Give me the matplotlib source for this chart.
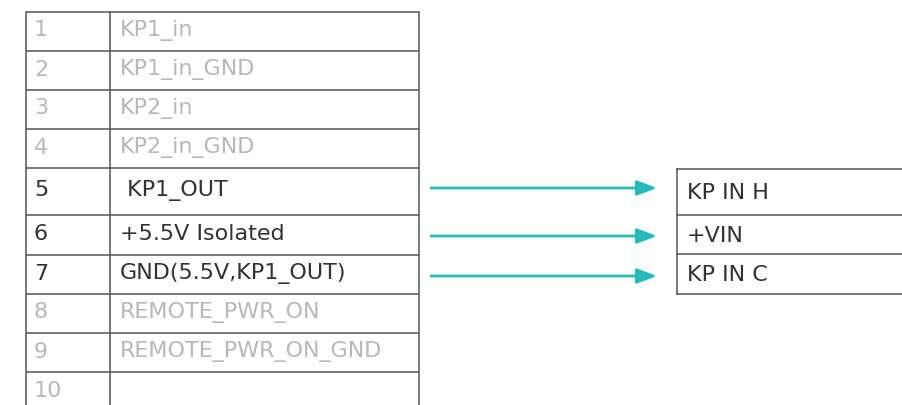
import matplotlib.pyplot as plt

# pin table data
pins = ["1", "2", "3", "4", "5", "6", "7", "8", "9", "10"]
signals = ["KP1_in", "KP1_in_GND", "KP2_in", "KP2_in_GND", " KP1_OUT",
           "+5.5V Isolated", "GND(5.5V,KP1_OUT)", "REMOTE_PWR_ON",
           "REMOTE_PWR_ON_GND", ""]
active = [False, False, False, False, True, True, True, False, False, False]

# connector on the right side, wired from pins 5..7
targets = ["KP IN H", "+VIN", "KP IN C"]
wired_pins = ["5", "6", "7"]

# layout (pixels)
row_edges = [12, 51, 90, 129, 168, 215, 255, 294, 333, 372, 412]
x_left, x_div, x_right = 26, 110, 419
box_edges = [169, 215, 254, 294]
box_left, box_right = 677, 910
arrow_x0, arrow_x1 = 431, 657
arrow_y = [188, 236, 276]

line_col = "#555555"
dim_col = "#b8b8b8"
txt_col = "#333333"
teal = "#22bcbc"
fs = 16

plt.rcParams["font.family"] = ["DejaVu Sans"]
fig = plt.figure(figsize=(9.03, 4.05), dpi=100)
ax = fig.add_axes([0, 0, 1, 1])
ax.set_xlim(0, 903)
ax.set_ylim(405, 0)
ax.axis("off")

# table grid
for y in row_edges:
    ax.plot([x_left, x_right], [y, y], color=line_col, lw=1.1, solid_capstyle="butt")
for x in (x_left, x_div, x_right):
    ax.plot([x, x], [row_edges[0], row_edges[-1]], color=line_col, lw=1.1)

for i, (pin, sig, on) in enumerate(zip(pins, signals, active)):
    yc = (row_edges[i] + row_edges[i + 1]) / 2 - 1
    c = txt_col if on else dim_col
    ax.text(34, yc, pin, color=c, fontsize=fs, va="center", ha="left")
    ax.text(120, yc, sig, color=c, fontsize=fs, va="center", ha="left")

# right connector box
for y in box_edges:
    ax.plot([box_left, box_right], [y, y], color=line_col, lw=1.1, clip_on=False)
ax.plot([box_left, box_left], [box_edges[0], box_edges[-1]], color=line_col, lw=1.1)
for i, lab in enumerate(targets):
    yc = (box_edges[i] + box_edges[i + 1]) / 2 + 1
    ax.text(687, yc, lab, color=txt_col, fontsize=fs, va="center", ha="left")

# arrows
for y in arrow_y:
    ax.annotate("", xy=(arrow_x1, y), xytext=(arrow_x0, y),
                arrowprops=dict(arrowstyle="-|>,head_length=1.2,head_width=0.45",
                                color=teal, lw=2, shrinkA=0, shrinkB=0))

fig.savefig("out.png", dpi=100)
